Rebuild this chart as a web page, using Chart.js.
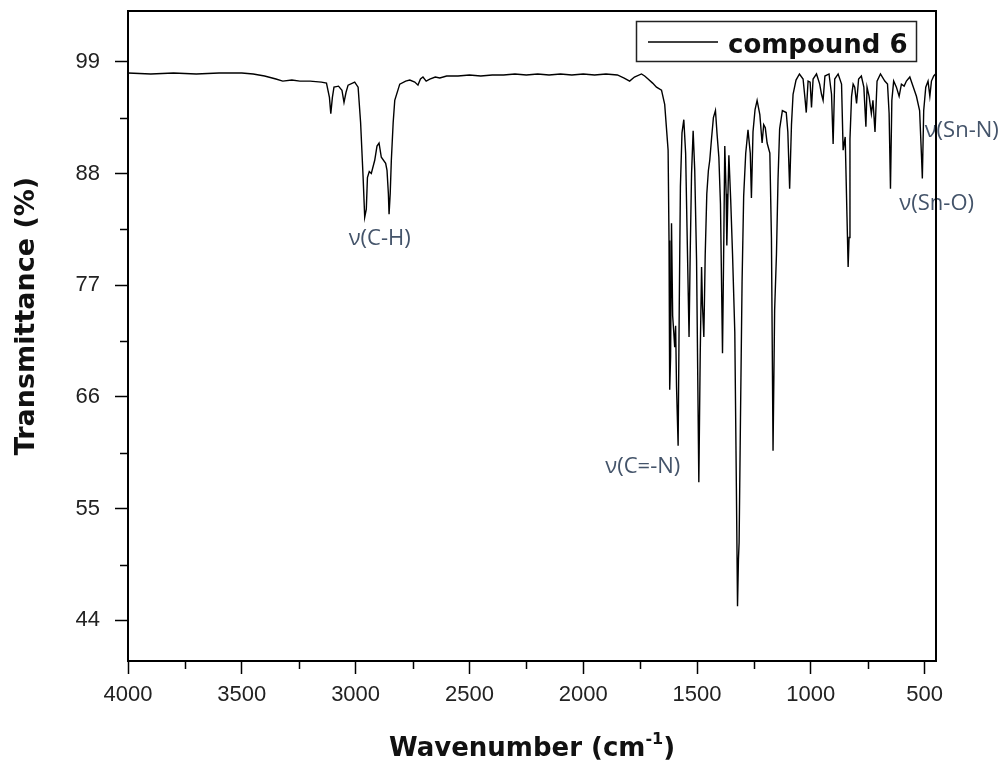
<!DOCTYPE html>
<html><head><meta charset="utf-8">
<script src="https://cdn.jsdelivr.net/npm/chart.js@4.4.1/dist/chart.umd.min.js"></script>
<style>html,body{margin:0;padding:0;background:#fff;}canvas{display:block}</style>
</head><body>
<canvas id="c" width="1006" height="765" style="width:1006px;height:765px"></canvas>
<script>
// ---- data ----
const wavenumbers = [
4000,3900,3800,3700,3600,3500,3450,3400,3350,3320,3280,3245,3200,3150,3128,3115,3109,3102,3095,3075,3060,3051,3042,3033,3004,2989,2978,2967,2960,2953,2948,2940,2931,2916,2906,2897,2887,2868,2862,2856,2853,2848,2843,2835,2828,2806,2780,2762,2740,2726,2715,2704,2690,2674,2650,2630,2600,2550,2500,2450,2400,2350,2300,2250,2200,2150,2100,2050,2000,1950,1900,1850,1820,1796,1775,1744,1730,1715,1695,1678,1656,1642,1627,1623,1620,1616,1612,1607,1602,1598,1594,1590,1583,1578,1573,1566,1558,1550,1544,1535,1530,1524,1517,1510,1502,1492,1486,1480,1476,1470,1464,1457,1450,1444,1436,1428,1419,1412,1404,1397,1388,1382,1378,1372,1369,1364,1360,1352,1344,1334,1327,1322,1318,1315,1309,1302,1295,1286,1276,1266,1261,1254,1245,1236,1224,1214,1207,1200,1192,1180,1173,1166,1159,1151,1144,1137,1125,1108,1101,1093,1085,1078,1065,1050,1034,1026,1020,1012,1003,997,990,975,961,953,946,938,920,909,902,895,880,865,858,849,841,836,832,828,821,814,807,799,790,778,767,758,753,744,734,727,718,709,694,675,663,656,650,644,636,624,612,602,590,580,565,551,536,522,513,510,504,495,485,477,470,460,452];
const transmittance = [
97.9,97.8,97.9,97.8,97.9,97.9,97.8,97.6,97.3,97.1,97.2,97.1,97.1,97.0,96.9,95.5,93.9,95.5,96.5,96.6,96.2,95.0,96.0,96.7,97.0,96.5,93.0,87.6,83.7,84.5,87.6,88.2,88.0,89.3,90.7,91.0,89.6,89.0,88.3,86.0,84.0,86.0,89.3,93.0,95.2,96.8,97.1,97.2,97.0,96.7,97.3,97.5,97.1,97.3,97.5,97.4,97.6,97.6,97.7,97.6,97.7,97.7,97.8,97.7,97.8,97.7,97.8,97.7,97.8,97.7,97.8,97.7,97.4,97.1,97.5,97.8,97.6,97.3,96.9,96.5,96.2,94.8,90.3,81.4,66.7,70.0,83.1,74.0,72.3,70.9,73.0,67.0,61.2,75.0,86.7,92.0,93.3,90.0,82.7,71.9,80.0,88.0,92.2,88.3,79.5,57.6,70.0,78.8,75.0,71.9,80.0,86.0,88.3,89.3,91.5,93.5,94.2,91.9,89.6,85.0,70.3,82.0,90.7,86.0,80.9,86.0,89.8,85.4,80.1,72.4,57.0,45.4,50.0,51.7,64.0,77.4,85.8,90.0,92.3,90.0,85.6,92.1,94.3,95.2,93.8,91.0,92.8,92.5,91.0,90.0,81.6,60.7,74.5,80.0,87.5,92.4,94.2,94.0,92.1,86.5,92.8,95.8,97.2,97.8,97.3,95.5,94.0,97.1,97.0,94.5,97.3,97.8,96.8,95.8,95.2,97.6,97.8,95.8,90.9,97.3,97.8,96.8,90.3,91.6,83.7,78.8,81.7,91.4,95.6,96.8,96.5,94.9,97.3,97.6,96.5,92.6,96.5,95.6,93.9,95.2,92.1,97.1,97.8,97.1,96.8,93.9,86.5,95.2,97.1,96.5,95.6,96.8,96.6,97.1,97.5,96.6,95.6,94.2,89.3,87.5,94.2,96.5,97.1,95.6,97.1,97.6,97.8];
const seriesLabel = 'compound 6';
const xTickValues = [4000,3500,3000,2500,2000,1500,1000,500];
const xMinorTickValues = [3750,3250,2750,2250,1750,1250,750];
const yTickValues = [44,55,66,77,88,99];
const yMinorTickValues = [49.5,60.5,71.5,82.5,93.5];
const xAxisTitle = 'Wavenumber (cm';
const xAxisTitleSup = '-1';
const yAxisTitle = 'Transmittance (%)';
const bandLabels = ['ν(C-H)','ν(C=-N)','ν(Sn-O)','ν(Sn-N)'];
const bandLabelWavenumber = [2894,1738,447,337];
const bandLabelT = [81.6,59.1,85.0,92.2];

const points = wavenumbers.map((w,i)=>({x:w,y:transmittance[i]}));

const TICK_FONT = {family:'"Liberation Sans",Arial,sans-serif', size:22};
const BOLD = 'bold 27px "DejaVu Sans", Verdana, sans-serif';
const BOLD_LEG = 'bold 26px "DejaVu Sans", Verdana, sans-serif';
const ANN_FONT = '22px "Open Sans", "Noto Sans", sans-serif';
const ANN_COLOR = '#44546a';

const decor = {
  id:'decor',
  afterDatasetsDraw(chart){
    const ctx = chart.ctx, a = chart.chartArea;
    const xs = chart.scales.x, ys = chart.scales.y;
    ctx.save();
    // band labels (behind the frame)
    ctx.font=ANN_FONT; ctx.fillStyle=ANN_COLOR; ctx.textAlign='center'; ctx.textBaseline='middle';
    bandLabels.forEach((t,i)=>{
      ctx.fillText(t, xs.getPixelForValue(bandLabelWavenumber[i]), ys.getPixelForValue(bandLabelT[i]));
    });
    // frame
    ctx.strokeStyle='#000'; ctx.lineWidth=2;
    ctx.strokeRect(a.left, a.top, a.right-a.left, a.bottom-a.top);
    // minor ticks
    ctx.lineWidth=1.5; ctx.beginPath();
    xMinorTickValues.forEach(v=>{const px=Math.round(xs.getPixelForValue(v))+0.5; ctx.moveTo(px,a.bottom); ctx.lineTo(px,a.bottom+8);});
    yMinorTickValues.forEach(v=>{const py=Math.round(ys.getPixelForValue(v))+0.5; ctx.moveTo(a.left,py); ctx.lineTo(a.left-8,py);});
    ctx.stroke();
    // legend
    const bx=a.right-300, by=a.top+10, bw=280, bh=40;
    ctx.fillStyle='#fff'; ctx.fillRect(bx,by,bw,bh);
    ctx.lineWidth=1.5; ctx.strokeStyle='#222'; ctx.strokeRect(bx+0.5,by+0.5,bw,bh);
    ctx.lineWidth=1.3; ctx.strokeStyle='#000'; ctx.beginPath();
    ctx.moveTo(bx+12,by+21); ctx.lineTo(bx+82,by+21); ctx.stroke();
    ctx.fillStyle='#111'; ctx.font=BOLD_LEG; ctx.textBaseline='alphabetic'; ctx.textAlign='left';
    ctx.fillText(chart.data.datasets[0].label, bx+92, by+32);
    // axis titles
    ctx.fillStyle='#111'; ctx.font=BOLD_LEG; ctx.textBaseline='alphabetic';
    const cx=(a.left+a.right)/2;
    const w1=ctx.measureText(xAxisTitle).width;
    ctx.font='bold 16px "DejaVu Sans", Verdana, sans-serif';
    const w2=ctx.measureText(xAxisTitleSup).width;
    ctx.font=BOLD_LEG; const w3=ctx.measureText(')').width;
    let x0=cx-(w1+w2+w3)/2; const yb=756;
    ctx.textAlign='left';
    ctx.fillText(xAxisTitle,x0,yb);
    ctx.font='bold 16px "DejaVu Sans", Verdana, sans-serif';
    ctx.fillText(xAxisTitleSup,x0+w1,yb-12);
    ctx.font=BOLD_LEG; ctx.fillText(')',x0+w1+w2,yb);
    ctx.save();
    ctx.font=BOLD;
    ctx.translate(34,316); ctx.rotate(-Math.PI/2);
    ctx.textAlign='center'; ctx.fillText(yAxisTitle,0,0);
    ctx.restore();
    ctx.restore();
  }
};

new Chart(document.getElementById('c'),{
  type:'line',
  data:{datasets:[{label:seriesLabel,data:points,borderColor:'#000',borderWidth:1.4,pointRadius:0,tension:0,fill:false}]},
  options:{
    responsive:false, animation:false, devicePixelRatio:1,
    layout:{padding:{left:0,top:11,right:70,bottom:0}},
    plugins:{legend:{display:false},tooltip:{enabled:false}},
    scales:{
      x:{type:'linear',reverse:true,min:450,max:4000,
        afterBuildTicks(s){s.ticks=xTickValues.map(v=>({value:v}));},
        afterFit(s){s.height=104;s.paddingLeft=0;s.paddingRight=0;},
        border:{display:false},
        grid:{drawOnChartArea:false,drawTicks:true,tickLength:13,tickWidth:1.5,tickColor:'#000'},
        ticks:{font:TICK_FONT,color:'#222',padding:8,maxRotation:0,autoSkip:false,callback:v=>String(v)}},
      y:{type:'linear',min:40,max:104,
        afterBuildTicks(s){s.ticks=yTickValues.map(v=>({value:v}));},
        afterFit(s){s.width=128;s.paddingTop=0;s.paddingBottom=0;},
        border:{display:false},
        grid:{drawOnChartArea:false,drawTicks:true,tickLength:13,tickWidth:1.5,tickColor:'#000'},
        ticks:{font:TICK_FONT,color:'#222',padding:15,autoSkip:false,callback:v=>String(v)}}
    }
  },
  plugins:[decor]
});
</script>
</body></html>
